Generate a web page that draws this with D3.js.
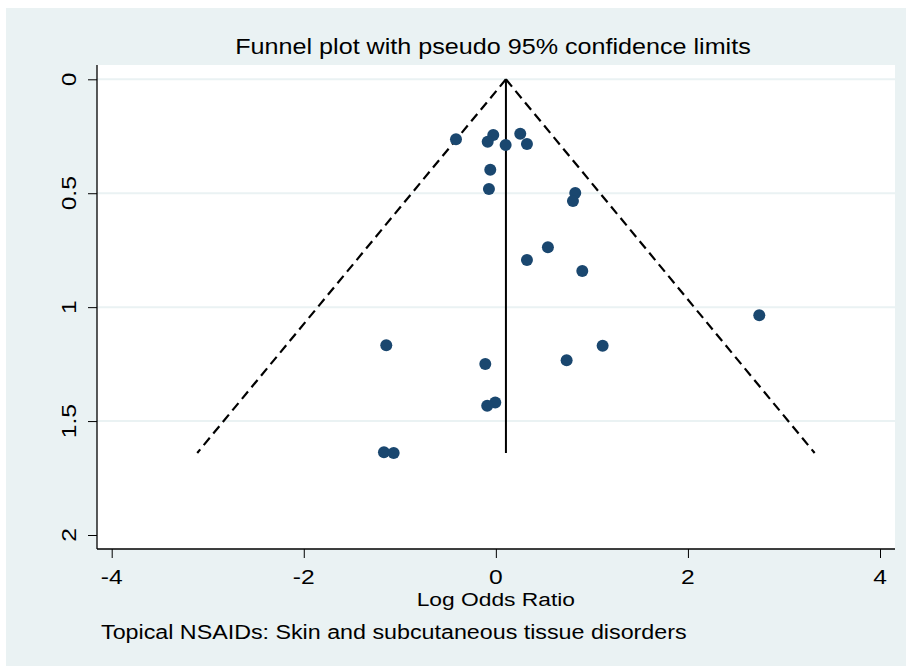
<!DOCTYPE html>
<html>
<head>
<meta charset="utf-8">
<script src="https://cdn.jsdelivr.net/npm/d3@7"></script>
<style>
    body { margin: 0; background: #fff; }
    svg { display: block; }
</style>
</head>
<body>
<div id="chart"></div>
<script>

// study estimates: log odds ratio and its standard error
var logOR = [-0.415, -0.027, -0.085, 0.102, 0.254, 0.324, -0.058, -0.072,
             0.827, 0.803, 0.542, 0.324, 0.900, 2.743, -1.141, 1.112,
             -0.110, 0.737, -0.006, -0.090, -1.165, -1.064]
var seLogOR = [0.263, 0.244, 0.274, 0.288, 0.239, 0.284, 0.397, 0.481,
               0.499, 0.534, 0.737, 0.793, 0.841, 1.036, 1.167, 1.169,
               1.249, 1.233, 1.418, 1.433, 1.637, 1.640]

var pooledLogOR = 0.105
var zLimit = 1.96

var xTicks = [-4, -2, 0, 2, 4]
var yTicks = [0, 0.5, 1, 1.5, 2]
var yGrid = [0, 0.5, 1, 1.5]

var title = 'Funnel plot with pseudo 95% confidence limits'
var xTitle = 'Log Odds Ratio'
var note = 'Topical NSAIDs: Skin and subcutaneous tissue disorders'

var width = 906,
    height = 666,
    plot = {left: 97, top: 65, right: 895, bottom: 549},
    stretch = 1.2,
    font = '"Liberation Sans", Arial, sans-serif',
    navy = '#1a476f',
    bgColor = '#eaf2f3'

var xScale = d3.scaleLinear().domain([-4, 4]).range([111.7, 880])
var yScale = d3.scaleLinear().domain([0, 2]).range([79.3, 535])

var data = logOR.map((d, i) => [d, seLogOR[i]])
var seMax = d3.max(seLogOR)

var svg = d3.select('#chart')
    .append('svg')
    .attr('width', width)
    .attr('height', height)
    .attr('font-family', font)

svg.append('rect')
    .attr('x', 6)
    .attr('y', 8)
    .attr('width', width - 6)
    .attr('height', height - 8)
    .attr('fill', bgColor)

svg.append('rect')
    .attr('x', plot.left)
    .attr('y', plot.top)
    .attr('width', plot.right - plot.left)
    .attr('height', plot.bottom - plot.top)
    .attr('fill', '#fff')

svg.append('g')
    .selectAll('line')
    .data(yGrid)
    .join('line')
    .attr('x1', plot.left)
    .attr('x2', plot.right)
    .attr('y1', d => yScale(d))
    .attr('y2', d => yScale(d))
    .attr('stroke', bgColor)
    .attr('stroke-width', 2)

// axes
var xAxis = d3.axisBottom(xScale).tickValues(xTicks).tickSize(9).tickFormat('')
var yAxis = d3.axisLeft(yScale).tickValues(yTicks).tickSize(9).tickFormat('')

svg.append('g')
    .attr('transform', `translate(0,${plot.bottom})`)
    .call(xAxis)
    .call(g => g.select('.domain').remove())
    .call(g => g.selectAll('.tick line').attr('stroke', '#000'))

svg.append('g')
    .attr('transform', `translate(${plot.left},0)`)
    .call(yAxis)
    .call(g => g.select('.domain').remove())
    .call(g => g.selectAll('.tick line').attr('stroke', '#000'))

svg.append('line')
    .attr('x1', plot.left).attr('x2', plot.right)
    .attr('y1', plot.bottom).attr('y2', plot.bottom)
    .attr('stroke', '#000')
    .attr('stroke-width', 1.3)

svg.append('line')
    .attr('x1', plot.left).attr('x2', plot.left)
    .attr('y1', plot.top).attr('y2', plot.bottom)
    .attr('stroke', '#000')
    .attr('stroke-width', 1.3)

// tick labels, title texts (text is drawn a little wider than the font)
function label(x, y, txt, size, rotate, sx) {
    var t = `translate(${x},${y})` + (rotate ? ' rotate(-90)' : '') + ` scale(${sx || stretch},1)`
    svg.append('text')
        .attr('transform', t)
        .attr('text-anchor', 'middle')
        .attr('font-size', size + 'px')
        .attr('fill', '#000')
        .text(txt)
}

xTicks.forEach(d => label(xScale(d), 584, d, 20.5))
yTicks.forEach(d => label(75.5, yScale(d), d, 20.5, true))

label(493, 54, title, 21.5, false, 1.17)
label(xScale(0), 606, xTitle, 19)

svg.append('text')
    .attr('transform', `translate(101,639) scale(${stretch},1)`)
    .attr('font-size', '19.4px')
    .attr('fill', '#000')
    .text(note)

// funnel: pseudo confidence limits and pooled estimate
var funnelLeft = [[pooledLogOR, 0], [pooledLogOR - zLimit * seMax, seMax]]
var funnelRight = [[pooledLogOR, 0], [pooledLogOR + zLimit * seMax, seMax]]
var line = d3.line().x(d => xScale(d[0])).y(d => yScale(d[1]))

svg.selectAll('.limit')
    .data([funnelLeft, funnelRight])
    .join('path')
    .attr('class', 'limit')
    .attr('d', line)
    .attr('fill', 'none')
    .attr('stroke', '#000')
    .attr('stroke-width', 2.2)
    .attr('stroke-dasharray', '9.5,5.5')

svg.append('path')
    .attr('d', line([[pooledLogOR, 0], [pooledLogOR, seMax]]))
    .attr('stroke', '#000')
    .attr('stroke-width', 2)

svg.append('g')
    .selectAll('circle')
    .data(data)
    .join('circle')
    .attr('cx', d => xScale(d[0]))
    .attr('cy', d => yScale(d[1]))
    .attr('r', 6)
    .attr('fill', navy)

</script>
</body>
</html>
